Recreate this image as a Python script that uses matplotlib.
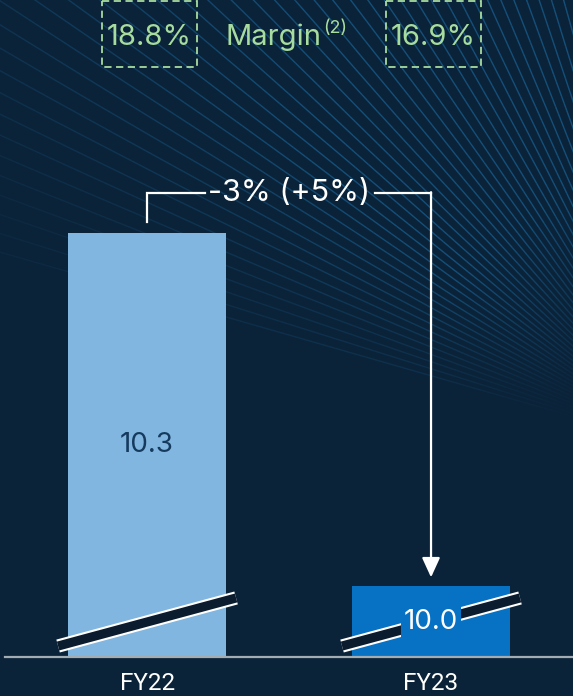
import numpy as np
import matplotlib.pyplot as plt
from matplotlib.collections import LineCollection
from matplotlib.patches import Rectangle
from matplotlib.transforms import Affine2D

# data
years = ["FY22", "FY23"]
revenue = [10.3, 10.0]
margins = ["18.8%", "16.9%"]
change_text = "-3% (+5%)"
margin_label = "Margin"
margin_note = "(2)"

bg = "#0b2339"
bar_colors = ["#80b6e0", "#0771c4"]
value_colors = ["#163a5e", "white"]
green = "#a8dc9e"
main_font = ["Inter", "DejaVu Sans"]

W, H = 573, 696
fig = plt.figure(figsize=(W / 100, H / 100), dpi=100, facecolor=bg)

# pixel transform, y measured from the top
px = Affine2D().scale(1, -1).translate(0, H)

# background rays (decoration)
deco = fig.add_axes([0, 0, 1, 1], zorder=0)
deco.set_xlim(0, W)
deco.set_ylim(H, 0)
deco.axis("off")
focus = np.array([690.0, 450.0])
segs, cols = [], []
for a in np.radians(np.linspace(16, 80, 46)):
    d = np.linspace(40, 950, 120)
    xs = focus[0] - d * np.cos(a)
    ys = focus[1] - d * np.sin(a)
    pts = np.column_stack([xs, ys])
    for i in range(len(d) - 1):
        segs.append(pts[i:i + 2])
        near = np.clip((d[i] - 110) / 170, 0, 1)
        steep = np.clip((np.degrees(a) - 12) / 25, 0.3, 1)
        left = np.clip(0.45 + xs[i] / 600, 0.45, 1)
        cols.append((0.10, 0.42, 0.64, 0.62 * near * steep * left))
deco.add_collection(LineCollection(segs, colors=cols, linewidths=1.0))

# main chart
ax = fig.add_axes([0, 39 / H, 1, 657 / H], zorder=1)
ax.patch.set_alpha(0)
x = np.arange(len(years))
ymin = 9.94
ax.bar(x, revenue, width=0.556, color=bar_colors, zorder=2)
ax.set_xlim(-0.518, 1.5)
ax.set_ylim(ymin, 10.498)
for s in ax.spines.values():
    s.set_visible(False)
ax.set_yticks([])
ax.set_xticks(x, years)
ax.tick_params(axis="x", length=0, pad=11, labelsize=17.5, labelcolor="white")
for lab in ax.get_xticklabels():
    lab.set_family(["Roboto", "DejaVu Sans"])
ax.axhline(ymin, xmin=5 / W, xmax=1, color="#a3abb3", lw=1.6, zorder=3, clip_on=False)

fig.canvas.draw()
centers = [ax.transData.transform((xi, 0))[0] for xi in x]
tops = [H - ax.transData.transform((0, v))[1] for v in revenue]

# broken-axis marks
for c in centers:
    xx = np.array([c - 89, c + 89])
    yy = 622 - 0.27 * (xx - c)
    ax.plot(xx, yy, color="white", lw=9.6, solid_capstyle="butt", transform=px, zorder=4)
    ax.plot(xx, yy, color="#0b1c2e", lw=6.6, solid_capstyle="butt", transform=px, zorder=5)

# value labels
for i, v in enumerate(revenue):
    ymid = (ymin + v) / 2
    ax.text(x[i], ymid, f"{v:.1f}", ha="center", va="center", fontsize=20,
            color=value_colors[i], family=main_font, zorder=7,
            bbox=dict(facecolor=bar_colors[i], edgecolor="none", pad=2) if i == 1 else None)

# change bracket
lc, rc = centers
ax.plot([lc, lc, 205], [tops[0] - 11, 193, 193], color="white", lw=1.6, transform=px,
        solid_joinstyle="miter", clip_on=False)
ax.plot([375, rc], [193, 193], color="white", lw=1.6, transform=px, clip_on=False)
ax.annotate("", xy=(rc, tops[1] - 9), xytext=(rc, 192.2), xycoords=px, textcoords=px,
            arrowprops=dict(arrowstyle="-|>,head_length=1.2,head_width=0.55", color="white",
                            lw=1.6, shrinkA=0, shrinkB=0))
ax.text(289, 201, change_text, transform=px, ha="center", va="baseline",
        fontsize=22, color="white", family=main_font)

# margin row
for c, m in zip(centers, margins):
    ax.add_patch(Rectangle((c - 45, 1), 95, 66, transform=px, fill=False, edgecolor=green,
                           lw=1.3, linestyle=(0, (4, 2.5)), clip_on=False))
    ax.text(c + 2.5, 45, m, transform=px, ha="center", va="baseline", fontsize=21,
            color=green, family=main_font)
ax.text(321, 45, margin_label, transform=px, ha="right", va="baseline", fontsize=21,
        color=green, family=main_font)
ax.text(323, 33, margin_note, transform=px, ha="left", va="baseline", fontsize=13,
        color=green, family=main_font)

fig.savefig("out.png", dpi=100, facecolor=bg)
